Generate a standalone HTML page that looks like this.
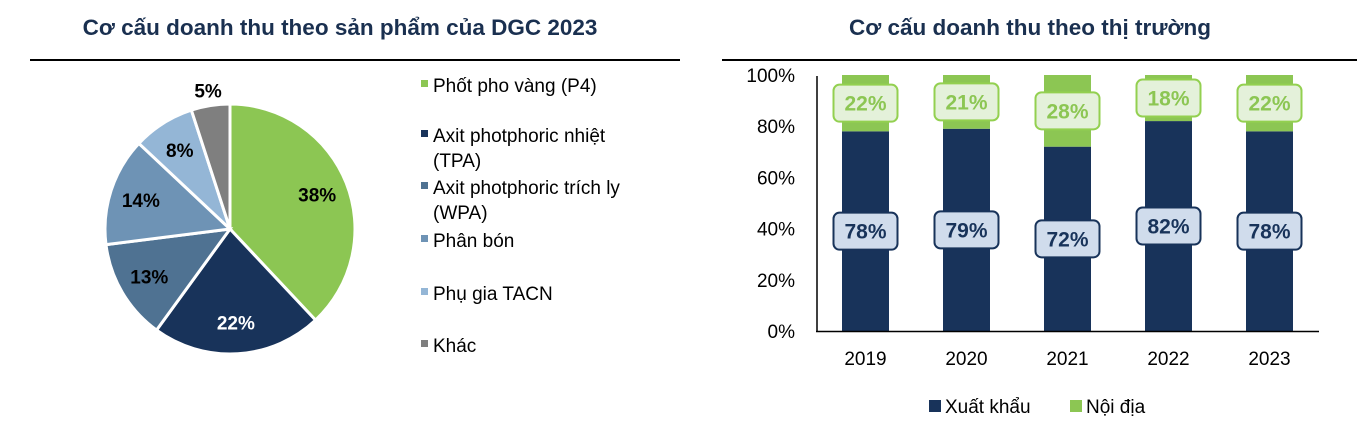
<!DOCTYPE html>
<html><head><meta charset="utf-8">
<style>
html,body{margin:0;padding:0;background:#fff;}
svg{display:block;font-family:"Liberation Sans",Arial,sans-serif;}
</style></head>
<body>
<svg id="root" width="1357" height="442" viewBox="0 0 1357 442" xmlns="http://www.w3.org/2000/svg">
<text x="340" y="35" text-anchor="middle" font-size="22.5" font-weight="bold" fill="#1a3050">Cơ cấu doanh thu theo sản phẩm của DGC 2023</text>
<line x1="30" y1="60" x2="680" y2="60" stroke="#000" stroke-width="2"/>
<text x="1030" y="35" text-anchor="middle" font-size="22.5" font-weight="bold" fill="#1a3050">Cơ cấu doanh thu theo thị trường</text>
<line x1="722" y1="60" x2="1357" y2="60" stroke="#000" stroke-width="2"/>
<g id="pie"></g>
<g id="pieLegend"></g>
<g id="bars"></g>
</svg>
<script>
const pieLabels = ["Phốt pho vàng (P4)", "Axit photphoric nhiệt|(TPA)", "Axit photphoric trích ly|(WPA)", "Phân bón", "Phụ gia TACN", "Khác"];
const pieValues = [38, 22, 13, 14, 8, 5];
const pieColors = ["#8cc653", "#18335a", "#4f7292", "#6e93b5", "#94b6d6", "#7f7f7f"];

const years = ["2019", "2020", "2021", "2022", "2023"];
const exportVals = [78, 79, 72, 82, 78];
const domesticVals = [22, 21, 28, 18, 22];
const yTicks = [0, 20, 40, 60, 80, 100];

const NS = "http://www.w3.org/2000/svg";
function mk(tag, attrs, parent, txt) {
  const e = document.createElementNS(NS, tag);
  for (const k in attrs) e.setAttribute(k, attrs[k]);
  if (txt !== undefined) e.textContent = txt;
  parent.appendChild(e);
  return e;
}

// Pie
const pie = document.getElementById("pie");
const cx = 230, cy = 229, R = 125;
const total = pieValues.reduce((a, b) => a + b, 0);
let acc = 0;
pieValues.forEach((v, i) => {
  const a0 = acc / total * 2 * Math.PI, a1 = (acc + v) / total * 2 * Math.PI;
  const x0 = cx + R * Math.sin(a0), y0 = cy - R * Math.cos(a0);
  const x1 = cx + R * Math.sin(a1), y1 = cy - R * Math.cos(a1);
  const large = (a1 - a0) > Math.PI ? 1 : 0;
  const p = mk("path", {d: `M${cx},${cy} L${x0},${y0} A${R},${R} 0 ${large} 1 ${x1},${y1} Z`, fill: pieColors[i], stroke: "#fff", "stroke-width": 3}, pie);
  
  
  const am = (a0 + a1) / 2;
  const rr = i === pieValues.length - 1 ? 1.12 : 0.75;
  const lx = cx + R * rr * Math.sin(am), ly = cy - R * rr * Math.cos(am);
  const t = mk("text", {x: lx, y: ly + 7, "text-anchor": "middle", "font-size": 19, "font-weight": "bold", fill: i === 1 ? "#fff" : "#000"}, pie, v + "%");
  
  
  acc += v;
});

// Pie legend
const lg = document.getElementById("pieLegend");
const legY = [85, 135, 187, 240, 293, 345];
pieLabels.forEach((lab, i) => {
  const g = mk("g", {}, lg);
  
  
  mk("rect", {x: 421, y: legY[i] - 5, width: 7, height: 7, fill: pieColors[i]}, g);
  lab.split("|").forEach((ln, j) => {
    mk("text", {x: 433, y: legY[i] + 7 + j * 25, "font-size": 19, fill: "#000"}, g, ln);
  });
});

// Bars
const bg = document.getElementById("bars");
const y0px = 331, plotH = 256, x0 = 865.5, step = 101, bw = 47;
const yS = v => y0px - v / 100 * plotH;
const xS = i => x0 + i * step;
yTicks.forEach(t => {
  const e = mk("text", {x: 795, y: yS(t) + 7, "text-anchor": "end", "font-size": 19, fill: "#000"}, bg, t + "%");
  
  
});
function label(cxp, cyp, txt, fill, stroke, color, name) {
  const g = mk("g", {}, bg);
  
  
  mk("rect", {x: cxp - 32, y: cyp - 18.5, width: 64, height: 37, rx: 6, fill: fill, stroke: stroke, "stroke-width": 2}, g);
  mk("text", {x: cxp, y: cyp + 7.5, "text-anchor": "middle", "font-size": 21, "font-weight": "bold", fill: color}, g, txt);
}
years.forEach((yr, i) => {
  const cxp = xS(i);
  const e = mk("rect", {x: cxp - bw / 2, y: yS(exportVals[i]), width: bw, height: yS(0) - yS(exportVals[i]), fill: "#18335a"}, bg);
  
  
  const top = exportVals[i] + domesticVals[i];
  const d = mk("rect", {x: cxp - bw / 2, y: yS(top), width: bw, height: yS(exportVals[i]) - yS(top), fill: "#8cc653"}, bg);
  
  
  label(cxp, yS(exportVals[i] / 2), exportVals[i] + "%", "#d0dcec", "#18335a", "#18335a", 'export-value-' + yr);
  label(cxp, yS(exportVals[i] + domesticVals[i] / 2), domesticVals[i] + "%", "#e4f1da", "#93d050", "#8cc653", 'domestic-value-' + yr);
  const t = mk("text", {x: cxp, y: 365, "text-anchor": "middle", "font-size": 19, fill: "#000"}, bg, yr);
  
  
});
const ax = mk("line", {x1: 817, y1: 76, x2: 817, y2: 332, stroke: "#000", "stroke-width": 1.5}, bg);


const xa = mk("line", {x1: 816, y1: 331.5, x2: 1319, y2: 331.5, stroke: "#000", "stroke-width": 1.5}, bg);



const l1 = mk("g", {}, bg);


mk("rect", {x: 929, y: 400, width: 12, height: 12, fill: "#18335a"}, l1);
mk("text", {x: 945, y: 413, "font-size": 19, fill: "#000"}, l1, "Xuất khẩu");
const l2 = mk("g", {}, bg);


mk("rect", {x: 1070, y: 400, width: 12, height: 12, fill: "#8cc653"}, l2);
mk("text", {x: 1086, y: 413, "font-size": 19, fill: "#000"}, l2, "Nội địa");
</script>
</body></html>
